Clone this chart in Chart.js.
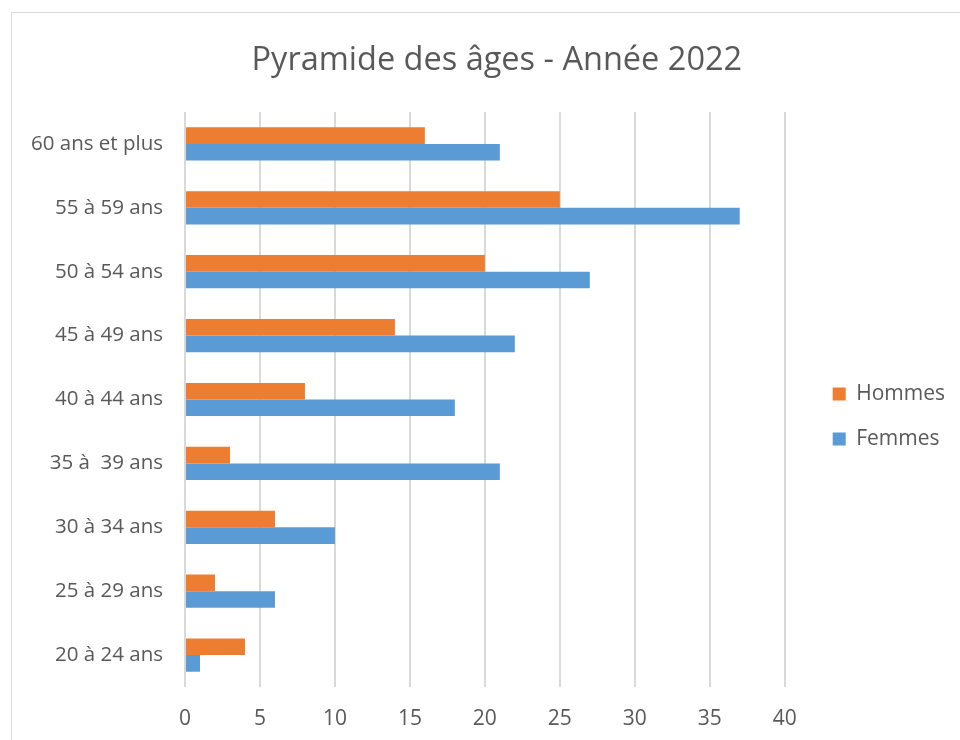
<!DOCTYPE html>
<html>
<head>
<meta charset="utf-8">
<script src="https://cdn.jsdelivr.net/npm/chart.js@4"></script>
<style>
  html, body { margin: 0; padding: 0; background: #ffffff; }
  #wrap { width: 960px; height: 740px; position: relative; }
</style>
</head>
<body>
<div id="wrap"><canvas id="pyramide"></canvas></div>
<script>
// tranches d'âge, du haut vers le bas
const ageGroups = ['60 ans et plus', '55 à 59 ans', '50 à 54 ans', '45 à 49 ans', '40 à 44 ans', '35 à  39 ans', '30 à 34 ans', '25 à 29 ans', '20 à 24 ans'];
const hommes = [16, 25, 20, 14, 8, 3, 6, 2, 4];
const femmes = [21, 37, 27, 22, 18, 21, 10, 6, 1];
const xTicks = [0, 5, 10, 15, 20, 25, 30, 35, 40];

const textColor = '#595959';
const fontName = "'Open Sans', sans-serif";

// light frame around the chart, like the office export
const framePlugin = {
    id: 'frame',
    beforeDraw(chart) {
        const ctx = chart.ctx;
        ctx.save();
        ctx.fillStyle = '#ffffff';
        ctx.fillRect(0, 0, chart.width, chart.height);
        ctx.strokeStyle = '#d9d9d9';
        ctx.lineWidth = 1;
        ctx.strokeRect(11.5, 12.5, chart.width + 20, chart.height + 20);
        ctx.restore();
    }
};

new Chart(document.getElementById('pyramide').getContext('2d'), {
    type: 'bar',
    data: {
        labels: ageGroups,
        datasets: [
            { label: 'Hommes', data: hommes, backgroundColor: '#ED7D31', barPercentage: 1, categoryPercentage: 0.52 },
            { label: 'Femmes', data: femmes, backgroundColor: '#5B9BD5', barPercentage: 1, categoryPercentage: 0.52 }
        ]
    },
    options: {
        responsive: true,
        maintainAspectRatio: false,
        animation: false,
        indexAxis: 'y',
        layout: { padding: { top: 0, bottom: 0, left: 0, right: 5 } },
        scales: {
            x: {
                min: 0,
                max: 41.6, // a bit of room past 40 so the legend lands where it should
                ticks: { stepSize: 5, color: textColor, font: { family: fontName, size: 21 }, padding: 19 },
                afterBuildTicks(scale) {
                    scale.ticks = xTicks.map(v => ({ value: v }));
                },
                grid: { color: '#d9d9d9', lineWidth: 2, drawTicks: false },
                border: { display: false },
                afterFit(scale) { scale.height = 53; }
            },
            y: {
                ticks: { color: textColor, font: { family: fontName, size: 20.5 }, padding: 14 },
                grid: { display: false },
                border: { display: false },
                afterFit(scale) { scale.width = 185; }
            }
        },
        plugins: {
            title: {
                display: true,
                fullSize: false,
                text: 'Pyramide des âges - Année 2022',
                color: textColor,
                font: { family: fontName, size: 32.5, weight: 'normal' },
                padding: { top: 41, bottom: 32 }
            },
            legend: {
                position: 'right',
                fullSize: false,
                // empty title only used to push the two items a little lower
                title: { display: true, text: ' ', font: { size: 10 }, padding: { top: 11, bottom: 11 } },
                labels: {
                    color: textColor,
                    font: { family: fontName, size: 21 },
                    boxWidth: 13,
                    boxHeight: 13,
                    padding: 24
                }
            },
            tooltip: { enabled: false }
        }
    },
    plugins: [framePlugin]
});
</script>
</body>
</html>
